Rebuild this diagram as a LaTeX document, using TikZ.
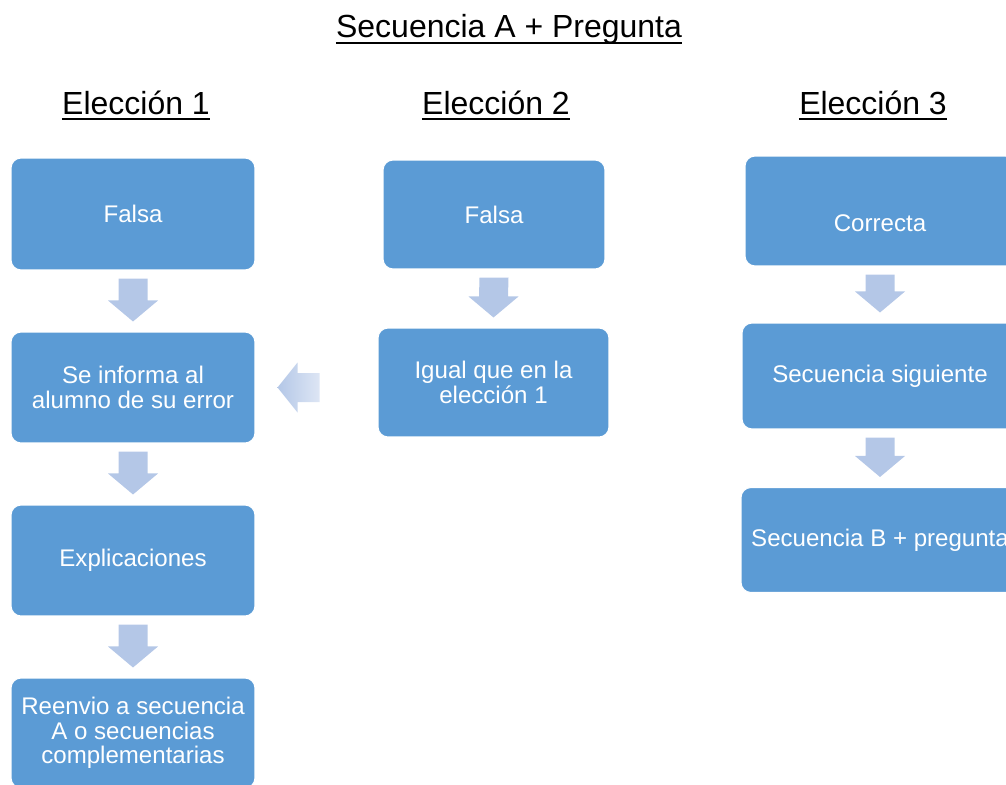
\documentclass[tikz,border=0pt]{standalone}
\usepackage{fontspec}
\setmainfont{Liberation Sans}
\usepackage{xcolor}
\usepackage{tikz}
\usetikzlibrary{calc,positioning}

\definecolor{cajaazul}{HTML}{5B9BD5}
\definecolor{flechaazul}{HTML}{B4C7E7}

\tikzset{
  caja/.style={rectangle,rounded corners=0.2cm,fill=cajaazul,draw=white,line width=0.6pt,
    text=white,align=center,font=\fontsize{13.7}{13.8}\selectfont,inner sep=2pt},
  titulo/.style={anchor=base,inner sep=0pt,font=\fontsize{18.2}{20}\selectfont},
  subrayado/.style={line width=1.2pt},
  flecha/.style={fill=flechaazul}
}

% flecha gruesa hacia abajo entre dos cajas
\newcommand{\flechaabajo}[2]{%
  \fill[flecha] ($(#1.south)+(-14.5,8)$) -- ($(#1.south)+(14.5,8)$)
    -- ($(#2.north)+(14.5,-31)$) -- ($(#2.north)+(25,-31)$)
    -- ($(#2.north)+(0,-10)$)
    -- ($(#2.north)+(-25,-31)$) -- ($(#2.north)+(-14.5,-31)$) -- cycle;}

\begin{document}
\begin{tikzpicture}[x=0.02cm,y=-0.02cm]

\clip (0,0) rectangle (1006,784);

% titulos
\node[titulo] (t0) at (509,38) {Secuencia A + Pregunta};
\node[titulo] (e1) at (136,114) {Elección 1};
\node[titulo] (e2) at (496,114) {Elección 2};
\node[titulo] (e3) at (873,114) {Elección 3};
\foreach \t in {t0,e1,e2,e3}
  \draw[subrayado] ([yshift=-2.8pt]\t.base west) -- ([yshift=-2.8pt]\t.base east);

% eleccion 1
\node[caja,minimum width=4.88cm,minimum height=2.24cm] (f1) at (133,214) {Falsa};
\node[caja,minimum width=4.88cm,minimum height=2.22cm] (s1) at (133,387.5) {Se informa al\\alumno de su error};
\node[caja,minimum width=4.88cm,minimum height=2.22cm] (x1) at (133,560.5) {Explicaciones};
\node[caja,minimum width=4.88cm,minimum height=2.2cm] (r1) at (133,733) {Reenvio a secuencia\\A o secuencias\\complementarias};

% eleccion 2
\node[caja,minimum width=4.44cm,minimum height=2.18cm] (f2) at (494,214.5) {Falsa};
\node[caja,minimum width=4.62cm,minimum height=2.18cm] (i2) at (493.5,382.5) {Igual que en la\\elección 1};

% eleccion 3
\node[caja,minimum width=5.4cm,minimum height=2.2cm,text height=23pt] (c3) at (880,211) {Correcta};
\node[caja,minimum width=5.52cm,minimum height=2.12cm] (s3) at (880,376) {Secuencia siguiente};
\node[caja,minimum width=5.56cm,minimum height=2.1cm] (b3) at (880,540) {Secuencia B + pregunta};

% flechas
\flechaabajo{f1}{s1}
\flechaabajo{s1}{x1}
\flechaabajo{x1}{r1}
\flechaabajo{f2}{i2}
\flechaabajo{c3}{s3}
\flechaabajo{s3}{b3}

% flecha hacia la izquierda (de la eleccion 2 a la 1)
\shade[left color=flechaazul,right color=flechaazul!45] ($(s1.east)+(22,0)$) -- ($(s1.east)+(42,-25)$)
  -- ($(s1.east)+(42,-14.5)$) -- ($(s1.east)+(64,-14.5)$) -- ($(s1.east)+(64,14.5)$)
  -- ($(s1.east)+(42,14.5)$) -- ($(s1.east)+(42,25)$) -- cycle;

\end{tikzpicture}
\end{document}
